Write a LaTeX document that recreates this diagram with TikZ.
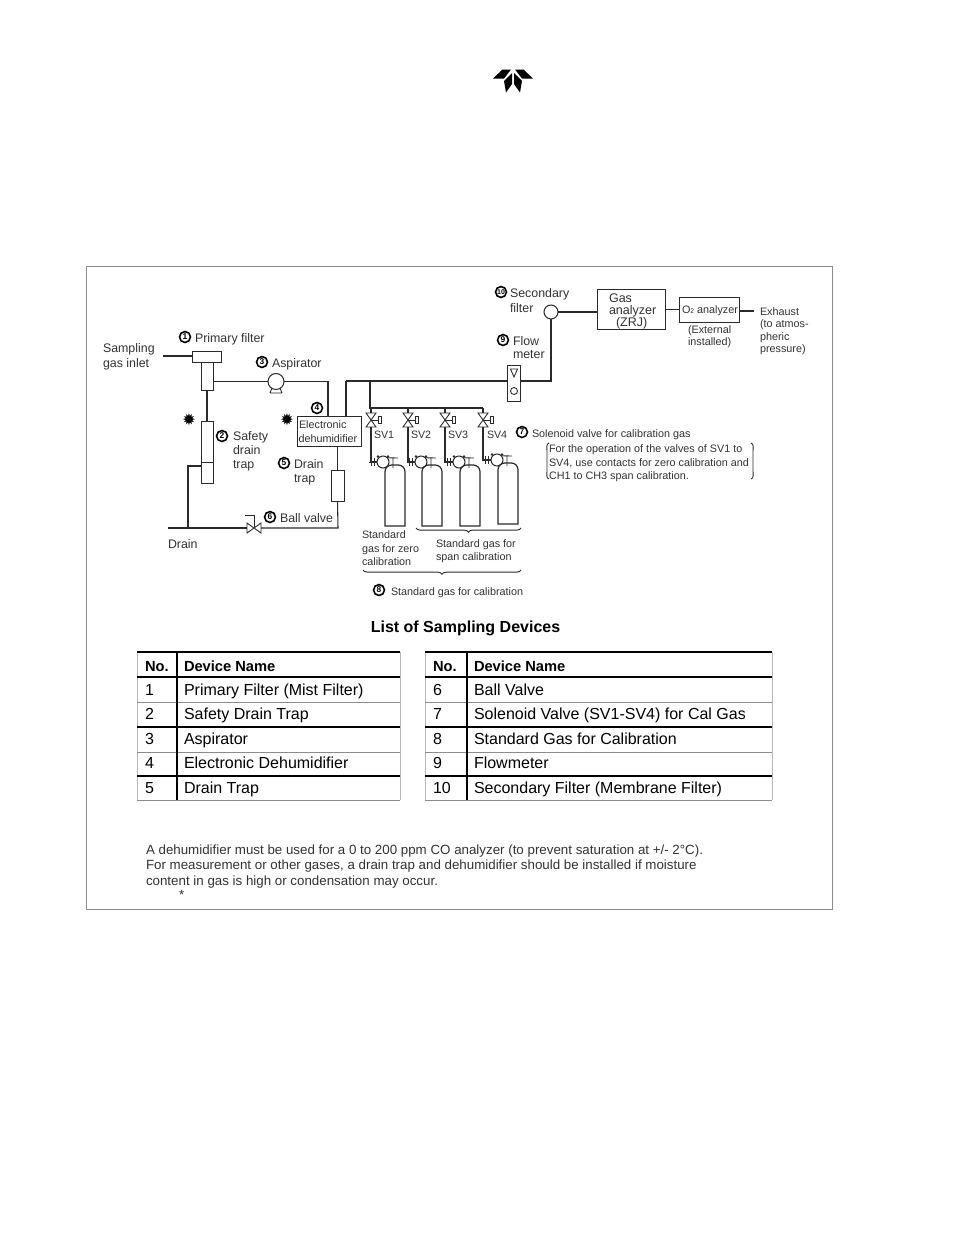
\documentclass[tikz,border=0pt]{standalone}
\usepackage{fontspec}
\setmainfont{Liberation Sans}
\newfontfamily\djv{DejaVu Sans}
\usetikzlibrary{decorations.pathreplacing}
\definecolor{ink}{HTML}{2A2A2A}
\definecolor{inkt}{HTML}{333333}
\definecolor{rule}{HTML}{8C8C8C}
\definecolor{soft}{HTML}{B8B8B8}
\tikzset{
  conn/.style={draw=ink,line width=.8pt},
  thin conn/.style={draw=ink,line width=.65pt},
  boxx/.style={draw=ink,line width=.75pt,inner sep=0pt,outer sep=0pt,fill=white},
  ghost/.style={inner sep=0pt,outer sep=0pt},
  lab/.style={text=inkt,inner sep=0pt,outer sep=0pt,anchor=base west,font=\fontsize{9.3}{10}\selectfont},
  small/.style={lab,font=\fontsize{8.1}{10}\selectfont},
  svlab/.style={lab,font=\fontsize{8}{10}\selectfont},
  big/.style={lab,font=\fontsize{9.4}{10}\selectfont},
  tab/.style={lab,text=black,font=\fontsize{12}{14}\selectfont},
  tabh/.style={lab,text=black,font=\fontsize{11}{14}\bfseries\selectfont},
  note/.style={lab,font=\fontsize{10}{11}\selectfont},
  num/.style={circle,draw=black,line width=1.2pt,fill=white,inner sep=0pt,minimum size=8.2pt,text=black,font=\fontsize{6.3}{7}\bfseries\selectfont},
  mark sym/.style={inner sep=0pt,text=black,font=\djv\fontsize{12}{12}\selectfont},
  brc/.style={draw=ink,line width=.7pt,decorate,decoration={brace,amplitude=3.2pt,mirror}},
}
\newcommand{\lbl}[5][lab]{\node[#1] (#2) at (#3,#4) {#5};}
\newcommand{\pbox}[6][]{\node[boxx,#1,minimum width={(#5-#3)*0.75pt},minimum height={(#6-#4)*0.75pt}] (#2) at ({(#3+#5)/2},{(#4+#6)/2}) {};}
\newcommand{\vvalve}[2]{%
  \node[ghost,minimum width=7.5pt,minimum height=10.5pt] (#1) at (#2,420) {};
  \draw[thin conn] (#1.north west) -- (#1.north east) -- (#1.south west) -- (#1.south east) -- cycle;
  \node[boxx,minimum width=2.6pt,minimum height=5.2pt] (#1s) at (#2+9,420) {};
  \draw[thin conn] (#1.center) -- (#1s.west);
}
\newcommand{\regul}[3]{%
  \node[circle,boxx,minimum size=9pt] (#1) at (#2,#3) {};
  \fill[ink] (#2-5,#3-5.5) circle (1.4) (#2+5,#3-5.5) circle (1.4);
  \draw[thin conn] (#2-12,#3-4) -- (#2-12,#3+4) (#2-9,#3-4) -- (#2-9,#3+4) (#2-14,#3) -- (#1.west);
  \draw[thin conn] (#1.north east) -- (#2+15,#3-4) (#2+10,#3-4) -- (#2+10,#3+6);
}
\newcommand{\cyl}[5]{%
  \node[ghost,minimum width={(#3-#2)*0.75pt},minimum height={(#5-#4)*0.75pt}] (#1) at ({(#2+#3)/2},{(#4+#5)/2}) {};
  \draw[conn,line width=.9pt] (#1.south west) [rounded corners=5pt] -- (#1.north west) -- (#1.north east) [sharp corners] -- (#1.south east) -- cycle;
}
\begin{document}
\begin{tikzpicture}[x=0.75pt,y=-0.75pt]
\useasboundingbox (0,0) rectangle (954,1235);
\fill[white] (0,0) rectangle (954,1235);
% logo
\fill[black] (493,78.5) -- (502.5,69.5) -- (511,69.5) -- (504,78.5) -- cycle
 (533,78.5) -- (523.5,69.5) -- (515,69.5) -- (522,78.5) -- cycle
 (504,81) -- (512,73) -- (512,84) -- (506,92.5) -- cycle
 (522,81) -- (514,73) -- (514,84) -- (520,92.5) -- cycle;
% frame
\node[draw=rule,line width=.6pt,inner sep=0pt,minimum width={746*0.75pt},minimum height={643*0.75pt}] (frame) at (459,587.5) {};

% left train
\coordinate (inlet) at (163,356);
\pbox{pfhead}{192}{351}{221}{362}
\pbox{pfbody}{201}{362}{213}{390}
\pbox{sdt}{201}{421}{213}{483}
\coordinate (sdtj) at (201,466);
\draw[thin conn] (201,462) -- (213,462);
\coordinate (dj) at (188,528);
\coordinate (dstart) at (168,528);
\node[circle,boxx,minimum size=12pt] (asp) at (276,381.5) {};
\draw[thin conn] (270,393) -- (282,393) (272,388) -- (270,393) (280,388) -- (282,393);
\pbox{dehum}{297}{416}{361}{446}
\pbox{dt}{331}{470}{344}{501}
\node[ghost,minimum width=10.5pt,minimum height=7.5pt] (bv) at (254,528) {};
\draw[thin conn] (bv.north west) -- (bv.south east) -- (bv.north east) -- (bv.south west) -- cycle;
\coordinate (bvtop) at (254,515);
\coordinate (bvhand) at (245,515);
\coordinate (bvcorner) at (338,528);
\coordinate (dhin) at (328,416);
\coordinate (dhout) at (346,416);
\coordinate (main) at (346,381);
\coordinate (mainj) at (370,381);
\draw[conn] (inlet) -- (pfhead.west |- inlet);
\draw[conn] (pfbody.south) -- (sdt.north);
\draw[conn] (sdtj) -| (dj) -- (dstart);
\draw[conn] (dj) -- (bv.west);
\draw[thin conn] (bv.center) -- (bvtop) -- (bvhand);
\draw[conn] (bv.east) -- (bvcorner) -- (dt.south);
\draw[conn] (dt.north) -- (dehum.south -| dt.north);
\draw[conn] (pfbody.east |- asp.center) -- (asp.west);
\draw[conn] (asp.east) -| (dhin);
\draw[conn] (dhout) -- (main);

% right train
\pbox{fm}{507}{365}{520}{401}
\draw[thin conn] (510.5,369) -- (517.5,369) -- (514,377) -- cycle;
\draw[thin conn] (514,391) circle (3.5);
\node[circle,boxx,minimum size=10.5pt] (sf) at (551,312) {};
\pbox{ga}{597}{289}{665}{329}
\pbox{o2}{679}{297}{739}{322}
\coordinate (sfbend) at (551,381);
\coordinate (ex) at (754,311);
\draw[conn] (main) -- (fm.west |- main);
\draw[conn] (fm.east |- sfbend) -- (sfbend) -- (sf.south);
\draw[conn] (sf.east) -- (ga.west |- sf.east);
\draw[conn] (ga.east |- o2.west) -- (o2.west);
\draw[conn] (o2.east |- ex) -- (ex);

% valves
\coordinate (mfd) at (370,408);
\coordinate (mfe) at (483,408);
\draw[conn] (mainj) -- (mfd) -- (mfe);
\vvalve{sva}{371}
\vvalve{svb}{408}
\vvalve{svc}{445}
\vvalve{svd}{483}
\regul{ra}{383}{462}
\regul{rb}{421}{462}
\regul{rc}{459}{462}
\regul{rd}{497}{460}
\foreach \v/\r in {sva/ra,svb/rb,svc/rc,svd/rd}{
  \draw[conn] (\v.north |- mfd) -- (\v.north);
  \draw[conn] (\v.south) |- (\r.west);
}
\cyl{ca}{385}{405}{465}{526}
\cyl{cb}{422}{442}{465}{526}
\cyl{cc}{460}{480}{465}{526}
\cyl{cd}{498}{518}{463}{524}

% braces
\coordinate (b1a) at (416,528); \coordinate (b1b) at (521,528);
\coordinate (b2a) at (363,570); \coordinate (b2b) at (521,570);
\draw[brc] (b1a) -- (b1b);
\draw[brc] (b2a) -- (b2b);
% note brackets
\coordinate (nl) at (549,443); \coordinate (nr) at (751,443);
\draw[thin conn] (nl) .. controls (546,444) and (547,448) .. (547,452) -- (547,470) .. controls (547,475) and (546,478) .. (549,479);
\draw[thin conn] (nr) .. controls (754,444) and (753,448) .. (753,452) -- (753,470) .. controls (753,475) and (754,478) .. (751,479);

% numbers
\node[num] (n1) at (185,337) {1};
\node[num] (n2) at (222,436) {2};
\node[num] (n3) at (262,362) {3};
\node[num] (n4) at (317,408) {4};
\node[num] (n5) at (284,463) {5};
\node[num] (n6) at (270,517) {6};
\node[num] (n7) at (522,432) {7};
\node[num] (n8) at (379,590) {8};
\node[num] (n9) at (503,340) {9};
\node[num,font=\fontsize{5.2}{6}\bfseries\selectfont] (n10) at (501,292) {10};
\node[mark sym] (st1) at (189,420) {✹};
\node[mark sym] (st2) at (287,420) {✹};

% labels
\lbl{t1}{103}{352}{Sampling}
\lbl{t2}{103}{367}{gas inlet}
\lbl{t3}{195}{342}{Primary filter}
\lbl{t4}{272}{367}{Aspirator}
\lbl{t5}{233}{440}{Safety}
\lbl{t6}{233}{454}{drain}
\lbl{t7}{233}{468}{trap}
\lbl{t8}{294}{468}{Drain}
\lbl{t9}{294}{482}{trap}
\lbl{t10}{280}{522}{Ball valve}
\lbl{t11}{168}{548}{Drain}
\lbl[small]{t12}{299}{428}{Electronic}
\lbl[small]{t13}{298.5}{442}{dehumidifier}
\lbl[svlab]{t14}{374}{438}{SV1}
\lbl[svlab]{t15}{411}{438}{SV2}
\lbl[svlab]{t16}{448}{438}{SV3}
\lbl[svlab]{t17}{487}{438}{SV4}
\lbl[small]{t18}{532}{437}{Solenoid valve for calibration gas}
\lbl[small]{t19}{549}{452}{For the operation of the valves of SV1 to}
\lbl[small]{t20}{549}{466}{SV4, use contacts for zero calibration and}
\lbl[small]{t21}{549}{479}{CH1 to CH3 span calibration.}
\lbl[small]{t22}{362}{538}{Standard}
\lbl[small]{t23}{362}{552}{gas for zero}
\lbl[small]{t24}{362}{565}{calibration}
\lbl[small]{t25}{436}{547}{Standard gas for}
\lbl[small]{t26}{436}{560}{span calibration}
\lbl[small]{t27}{391}{595}{Standard gas for calibration}
\lbl{t28}{510}{297}{Secondary}
\lbl{t29}{510}{312}{filter}
\lbl{t30}{513}{345}{Flow}
\lbl{t31}{513}{358}{meter}
\lbl[big]{t32}{609}{302}{Gas}
\lbl[big]{t33}{609}{314}{analyzer}
\lbl[big]{t34}{616}{326}{(ZRJ)}
\lbl[small]{t35}{682}{313}{O{\fontsize{5}{6}\selectfont 2} analyzer}
\lbl[small]{t36}{688}{333}{(External}
\lbl[small]{t37}{688}{345}{installed)}
\lbl[small]{t38}{760}{315}{Exhaust}
\lbl[small]{t39}{760}{327}{(to atmos-}
\lbl[small]{t40}{760}{340}{pheric}
\lbl[small]{t41}{760}{352}{pressure)}

% table
\node[lab,anchor=base,text=black,font=\fontsize{12}{14}\bfseries\selectfont] (title) at (465.5,632) {List of Sampling Devices};
\foreach \a/\c/\b/\p in {137/177/400/L,425/467/772/R}{
  \draw[soft,line width=.6pt] (\a,652) -- (\a,800) (\b,652) -- (\b,800);
  \foreach \y/\k/\w in {652/black/1.0,677/black/.8,702/rule/.6,727/black/.8,752/rule/.6,776/black/.8,800/rule/.6}
    \draw[\k,line width=\w pt] (\a,\y) -- (\b,\y);
  \draw[black,line width=.8pt] (\c,652) -- (\c,800);
}
\lbl[tabh]{h1}{145}{671}{No.}
\lbl[tabh]{h2}{184}{671}{Device Name}
\lbl[tabh]{h3}{433}{671}{No.}
\lbl[tabh]{h4}{474}{671}{Device Name}
\lbl[tab]{a1}{145}{695}{1}
\lbl[tab]{a2}{145}{719}{2}
\lbl[tab]{a3}{145}{744}{3}
\lbl[tab]{a4}{145}{768}{4}
\lbl[tab]{a5}{145}{793}{5}
\lbl[tab]{b1}{184}{695}{Primary Filter (Mist Filter)}
\lbl[tab]{b2}{184}{719}{Safety Drain Trap}
\lbl[tab]{b3}{184}{744}{Aspirator}
\lbl[tab]{b4}{184}{768}{Electronic Dehumidifier}
\lbl[tab]{b5}{184}{793}{Drain Trap}
\lbl[tab]{c1}{433}{695}{6}
\lbl[tab]{c2}{433}{719}{7}
\lbl[tab]{c3}{433}{744}{8}
\lbl[tab]{c4}{433}{768}{9}
\lbl[tab]{c5}{433}{793}{10}
\lbl[tab]{d1}{474}{695}{Ball Valve}
\lbl[tab]{d2}{474}{719}{Solenoid Valve (SV1-SV4) for Cal Gas}
\lbl[tab]{d3}{474}{744}{Standard Gas for Calibration}
\lbl[tab]{d4}{474}{768}{Flowmeter}
\lbl[tab]{d5}{474}{793}{Secondary Filter (Membrane Filter)}
\lbl[note]{p1}{146}{854}{A dehumidifier must be used for a 0 to 200 ppm CO analyzer (to prevent saturation at +/- 2°C).}
\lbl[note]{p2}{146}{869}{For measurement or other gases, a drain trap and dehumidifier should be installed if moisture}
\lbl[note]{p3}{146}{885}{content in gas is high or condensation may occur.}
\lbl[note]{p4}{179}{899}{*}
\end{tikzpicture}
\end{document}
